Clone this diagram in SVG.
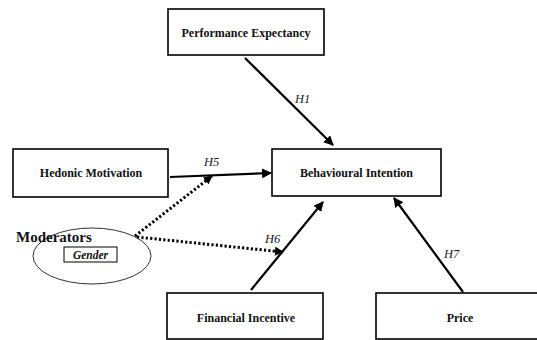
<svg xmlns="http://www.w3.org/2000/svg" width="537" height="340" viewBox="0 0 537 340">
<style>
.box{fill:#fff;stroke:#000;stroke-width:1.6}
.lbl{font-family:"Liberation Serif",serif;font-weight:bold;font-size:12px;fill:#111;text-anchor:middle}
.h{font-family:"Liberation Serif",serif;font-style:italic;font-size:12.5px;fill:#222}
.solid{stroke:#000;stroke-width:2.2;fill:none}
.dot{stroke:#000;stroke-width:3;fill:none;stroke-dasharray:2.2 2.2}
</style>
<defs>
<marker id="ah" viewBox="0 0 10 10" refX="9" refY="5" markerWidth="4.5" markerHeight="4.5" orient="auto" markerUnits="strokeWidth">
<path d="M0,0 L10,5 L0,10 z" fill="#000"/>
</marker>
<marker id="ahd" viewBox="0 0 10 10" refX="9" refY="5" markerWidth="3" markerHeight="3" orient="auto" markerUnits="strokeWidth">
<path d="M0,0 L10,5 L0,10 z" fill="#000"/>
</marker>
</defs>
<rect width="537" height="340" fill="#fff"/>
<g id="connectors">
<line class="solid" x1="245" y1="58" x2="333" y2="145" marker-end="url(#ah)"/>
<line class="solid" x1="170" y1="177" x2="271" y2="173" marker-end="url(#ah)"/>
<line class="solid" x1="251" y1="290" x2="323" y2="202" marker-end="url(#ah)"/>
<line class="solid" x1="463" y1="292" x2="394" y2="198" marker-end="url(#ah)"/>
<line class="dot" x1="135" y1="236" x2="212" y2="176" marker-end="url(#ahd)"/>
<line class="dot" x1="137" y1="237" x2="283" y2="252" marker-end="url(#ahd)"/>
<text class="h" x="295" y="103">H1</text>
<text class="h" x="204" y="166">H5</text>
<text class="h" x="265" y="243">H6</text>
<text class="h" x="444" y="258">H7</text>
</g>
<g id="performance-expectancy">
<rect class="box" x="168" y="9" width="156" height="46"/>
<text class="lbl" x="246" y="37">Performance Expectancy</text>
</g>
<g id="hedonic-motivation">
<rect class="box" x="13" y="149" width="155" height="48"/>
<text class="lbl" x="91" y="177">Hedonic Motivation</text>
</g>
<g id="behavioural-intention">
<rect class="box" x="272" y="149" width="169" height="47"/>
<text class="lbl" x="356.5" y="177">Behavioural Intention</text>
</g>
<g id="financial-incentive">
<rect class="box" x="167" y="293" width="156" height="46"/>
<text class="lbl" x="246" y="322">Financial Incentive</text>
</g>
<g id="price">
<rect class="box" x="376" y="293" width="170" height="46"/>
<text class="lbl" x="460" y="322">Price</text>
</g>
<g id="moderators">
<ellipse cx="92" cy="256" rx="59" ry="28" fill="none" stroke="#333" stroke-width="1"/>
<text x="16" y="242" font-family="Liberation Serif,serif" font-weight="bold" font-size="15" fill="#111">Moderators</text>
<rect x="64" y="247" width="53" height="15" fill="#fff" stroke="#000" stroke-width="1"/>
<text x="90.5" y="258.5" font-family="Liberation Serif,serif" font-weight="bold" font-style="italic" font-size="11.5" fill="#111" text-anchor="middle">Gender</text>
</g>
</svg>
